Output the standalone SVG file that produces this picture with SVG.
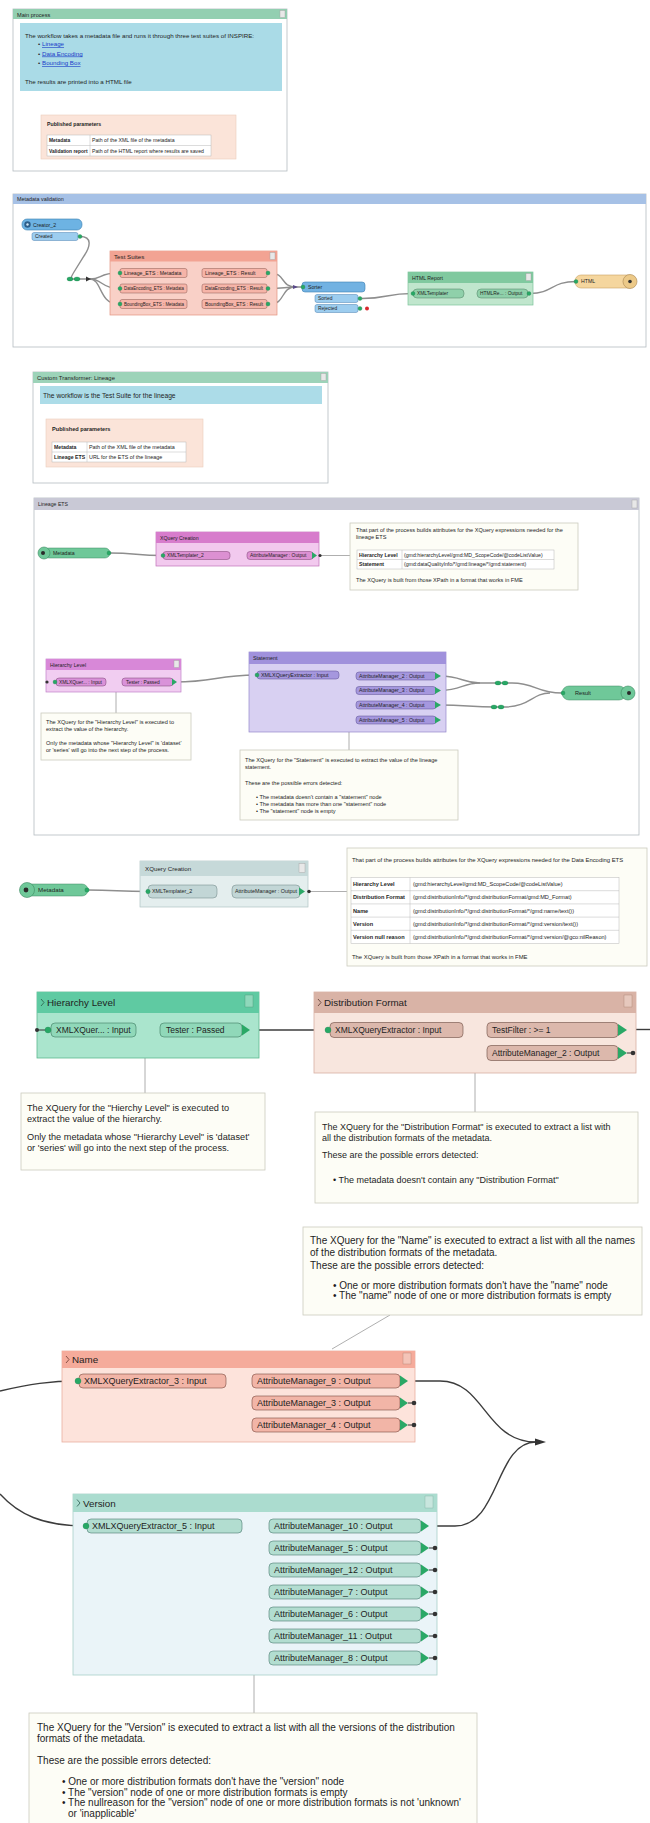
<svg xmlns="http://www.w3.org/2000/svg" width="650" height="1823" viewBox="0 0 650 1823">
<style>
text{font-family:"Liberation Sans",Arial,sans-serif;fill:#1e1e1e}
.b{font-weight:bold}
.f45{font-size:4.6px}.f48{font-size:4.9px}.f5{font-size:5.2px}.f53{font-size:5.4px}.f55{font-size:5.6px}.f58{font-size:5.9px}.f6{font-size:6.2px}.f67{font-size:6.7px}
.f85{font-size:8.5px}.f9{font-size:9px}.f92{font-size:9.2px}.f10{font-size:10px}.fh{font-size:9.8px}
.frame{fill:#fff;stroke:#b4bcc0;stroke-width:0.8}
.cm{fill:#fdfdf6;stroke:#cbcbbf;stroke-width:0.8}
.cl{stroke:#9a9a9a;stroke-width:0.8;fill:none}
.w{fill:none;stroke:#8e8e8e;stroke-width:1.4}
.wd{fill:none;stroke:#3c3c3c;stroke-width:1.4}
.gd{fill:#27a865;stroke:#1c7a48;stroke-width:0.3}
.gt{fill:#2aa866}
.dk{fill:#333}
.lnk{fill:#1a3cc8;text-decoration:underline}
.peach{fill:#fbe4d9;stroke:#ecccbc;stroke-width:0.6}
.tbl{fill:#fff;stroke:#b8b8b8;stroke-width:0.5}
.ln{stroke:#b8b8b8;stroke-width:0.5}
.sq{fill:#e8e8e8;stroke:#a0a0a0;stroke-width:0.4}
</style>

<g id="main-process">
  <rect class="frame" x="13" y="9" width="274" height="162"/>
  <rect x="13" y="9" width="274" height="10" fill="#93cfb1"/>
  <text class="f55" x="17" y="16.5">Main process</text>
  <rect class="sq" x="280" y="10.5" width="5" height="7"/>
  <rect x="20" y="23" width="262" height="68" fill="#aadbe7"/>
  <text class="f6" x="25" y="37.5">The workflow takes a metadata file and runs it through three test suites of INSPIRE:</text>
  <text class="f6" x="38" y="46">•</text><text class="f6 lnk" x="42" y="46">Lineage</text>
  <text class="f6" x="38" y="55.5">•</text><text class="f6 lnk" x="42" y="55.5">Data Encoding</text>
  <text class="f6" x="38" y="65">•</text><text class="f6 lnk" x="42" y="65">Bounding Box</text>
  <text class="f6" x="25" y="84">The results are printed into a HTML file</text>
  <rect class="peach" x="41" y="115" width="195" height="44"/>
  <text class="f5 b" x="47" y="125.5">Published parameters</text>
  <rect class="tbl" x="47" y="135" width="164" height="21"/>
  <line class="ln" x1="47" y1="145.5" x2="211" y2="145.5"/>
  <line class="ln" x1="90" y1="135" x2="90" y2="156"/>
  <text class="f48 b" x="49" y="142.2">Metadata</text>
  <text class="f5" x="92" y="142.2">Path of the XML file of the metadata</text>
  <text class="f48 b" x="49" y="152.7">Validation report</text>
  <text class="f5" x="92" y="152.7">Path of the HTML report where results are saved</text>
</g>

<g id="metadata-validation">
  <rect class="frame" x="13" y="194" width="633" height="153" stroke="#9cb2d2"/>
  <rect x="13" y="194" width="633" height="10" fill="#a6c1e6"/>
  <text class="f53" x="17" y="201.3">Metadata validation</text>
</g>

<g id="custom-transformer-lineage">
  <rect class="frame" x="33" y="372" width="295" height="111" stroke="#a8c8bc"/>
  <rect x="33" y="372" width="295" height="11" fill="#9dd3b9"/>
  <text class="f58" x="37" y="380">Custom Transformer: Lineage</text>
  <rect class="sq" x="321" y="373.5" width="5" height="7"/>
  <rect x="40" y="386" width="282" height="18" fill="#acdce8"/>
  <text class="f67" x="43" y="397.5">The workflow is the Test Suite for the lineage</text>
  <rect class="peach" x="46" y="419" width="157" height="48"/>
  <text class="f55 b" x="52" y="431">Published parameters</text>
  <rect class="tbl" x="52" y="442" width="134" height="20"/>
  <line class="ln" x1="52" y1="452" x2="186" y2="452"/>
  <line class="ln" x1="87" y1="442" x2="87" y2="462"/>
  <text class="f5 b" x="54" y="449">Metadata</text>
  <text class="f53" x="89" y="449">Path of the XML file of the metadata</text>
  <text class="f5 b" x="54" y="459">Lineage ETS</text>
  <text class="f53" x="89" y="459">URL for the ETS of the lineage</text>
</g>

<g id="lineage-ets">
  <rect class="frame" x="34" y="498" width="605" height="337" stroke="#b8b8c8"/>
  <rect x="34" y="498" width="605" height="12" fill="#c9c9d6"/>
  <text class="f5" x="38" y="506">Lineage ETS</text>
  <rect class="sq" x="632" y="500" width="5" height="8"/>
</g>

<g id="connectors">
  <path class="w" d="M80,236.5 C93,236.5 90,247 84,256 L74,272 C71,277 70,279 74,279 L90,279"/>
  <path class="w" d="M90,279 C102,279 99,273 118,273"/>
  <path class="w" d="M90,279 C102,279 102,288.5 118,288.5"/>
  <path class="w" d="M90,279 C102,279 99,304 118,304"/>
  <path class="w" d="M270,273 C286,273 280,287 296,287"/>
  <path class="w" d="M270,288.5 C284,288.5 284,287 296,287"/>
  <path class="w" d="M270,304 C286,304 280,287 296,287 L303,287"/>
  <path class="w" d="M362,298.5 C388,298.5 386,293.5 412,293.5"/>
  <path class="w" d="M530,293.5 C553,293.5 551,281.5 576,281.5"/>
  <path class="w" d="M110,553 C136,553 136,555.5 163,555.5"/>
  <path class="cl" d="M320,555.5 L350,555.5"/>
  <path class="w" d="M175,682 C215,682 217,675 257,675"/>
  <path class="w" d="M440,676 C462,676 462,683 480,683"/>
  <path class="w" d="M440,690.5 C462,690.5 462,683 480,683 L512,683 C536,683 536,693 562,693"/>
  <path class="w" d="M440,705 C466,705 470,707 496,707 L504,707 C530,707 532,693 550,693"/>
  <path class="cl" d="M116,692 L116,713"/>
  <path class="cl" d="M349,732 L349,750"/>
  <path class="w" d="M88,890 C116,890 118,891.5 148,891.5"/>
  <path class="cl" d="M309,891.5 L347,891.5"/>
  <path class="wd" d="M250,1030 L327,1030"/>
  <path class="wd" d="M627,1029.5 L650,1029.5"/>
  <path class="cl" d="M145,1058 L145,1093"/>
  <path class="cl" d="M475,1073 L475,1112"/>
  <path class="wd" stroke="#555" d="M0,1391 C30,1384 50,1381 78,1381"/>
  <path class="wd" d="M408,1381 L440,1381 C485,1381 485,1442 536,1442"/>
  <path class="wd" d="M429,1526 L455,1526 C500,1526 495,1442 536,1442"/>
  <path class="wd" d="M0,1494 C18,1514 42,1526 86,1526"/>
  <polygon class="dk" points="535,1438.5 546,1442 535,1445.5"/>
  <path class="cl" d="M390,1315 L332,1349"/>
  <path class="cl" d="M254,1675 L254,1713"/>
  <ellipse class="gd" cx="70" cy="279" rx="3" ry="2"/>
  <ellipse class="gd" cx="77" cy="279" rx="3" ry="2"/>
  <polygon class="dk" points="86,276.5 91,279 86,281.5"/>
  <polygon fill="#5a4a8a" points="293,285 298,287 293,289"/>
  <ellipse class="gd" cx="498" cy="683" rx="3" ry="2"/>
  <ellipse class="gd" cx="505" cy="683" rx="3" ry="2"/>
  <ellipse class="gd" cx="494" cy="707" rx="3" ry="2"/>
  <ellipse class="gd" cx="501" cy="707" rx="3" ry="2"/>
</g>

<g id="creator-2">
  <rect x="22" y="219" width="60" height="11" rx="5" fill="#6db3e3" stroke="#3a7fb0" stroke-width="0.6"/>
  <circle cx="27.5" cy="224.5" r="3.2" fill="#2d5f8a"/>
  <circle cx="27.5" cy="224.5" r="1.2" fill="#cfe6f6"/>
  <text class="f5" x="33" y="226.5">Creator_2</text>
  <rect x="32" y="232.5" width="46" height="8" rx="2" fill="#9dcdef" stroke="#4a80b0" stroke-width="0.5"/>
  <text class="f48" x="35" y="238.3">Created</text>
  <circle class="gd" cx="80" cy="236.5" r="2"/>
</g>

<g id="test-suites">
  <rect x="110" y="251" width="167" height="64" fill="#f9d0c7" stroke="#e3937f" stroke-width="0.7"/>
  <rect x="110" y="251" width="167" height="10.5" fill="#f2a393"/>
  <text class="f6" x="114" y="258.8">Test Suites</text>
  <rect class="sq" x="270" y="252.5" width="5" height="7"/>
  <rect x="120" y="268.5" width="67" height="9" rx="2" fill="#f6b4a8" stroke="#8a5a50" stroke-width="0.5"/>
  <rect x="120" y="284" width="67" height="9" rx="2" fill="#f6b4a8" stroke="#8a5a50" stroke-width="0.5"/>
  <rect x="120" y="299.5" width="67" height="9" rx="2" fill="#f6b4a8" stroke="#8a5a50" stroke-width="0.5"/>
  <rect x="202" y="268.5" width="65" height="9" rx="2" fill="#f6b4a8" stroke="#8a5a50" stroke-width="0.5"/>
  <rect x="202" y="284" width="65" height="9" rx="2" fill="#f6b4a8" stroke="#8a5a50" stroke-width="0.5"/>
  <rect x="202" y="299.5" width="65" height="9" rx="2" fill="#f6b4a8" stroke="#8a5a50" stroke-width="0.5"/>
  <circle class="gd" cx="120" cy="273" r="2"/><circle class="gd" cx="120" cy="288.5" r="2"/><circle class="gd" cx="120" cy="304" r="2"/>
  <circle class="gd" cx="268" cy="273" r="2"/><circle class="gd" cx="268" cy="288.5" r="2"/><circle class="gd" cx="268" cy="304" r="2"/>
  <text class="f5" x="124" y="274.8">Lineage_ETS : Metadata</text>
  <text class="f5" x="124" y="290.3" textLength="60" lengthAdjust="spacingAndGlyphs">DataEncoding_ETS : Metadata</text>
  <text class="f5" x="124" y="305.8" textLength="60" lengthAdjust="spacingAndGlyphs">BoundingBox_ETS : Metadata</text>
  <text class="f5" x="205" y="274.8">Lineage_ETS : Result</text>
  <text class="f5" x="205" y="290.3" textLength="58" lengthAdjust="spacingAndGlyphs">DataEncoding_ETS : Result</text>
  <text class="f5" x="205" y="305.8" textLength="58" lengthAdjust="spacingAndGlyphs">BoundingBox_ETS : Result</text>
</g>

<g id="sorter">
  <rect x="302" y="282" width="63" height="10" rx="3" fill="#72b2e2" stroke="#3d80b4" stroke-width="0.6"/>
  <circle class="gd" cx="303" cy="287" r="2"/>
  <text class="f5" x="308" y="288.8">Sorter</text>
  <rect x="315" y="294.5" width="43" height="8" rx="2" fill="#9dcdef" stroke="#4a80b0" stroke-width="0.5"/>
  <rect x="315" y="304.5" width="43" height="8" rx="2" fill="#9dcdef" stroke="#4a80b0" stroke-width="0.5"/>
  <text class="f48" x="318" y="300.3">Sorted</text>
  <text class="f48" x="318" y="310.3">Rejected</text>
  <circle class="gd" cx="360" cy="298.5" r="2"/>
  <circle class="gd" cx="360" cy="308.5" r="2"/>
  <circle cx="367" cy="308.5" r="2" fill="#d8282c"/>
</g>

<g id="html-report">
  <rect x="408" y="272" width="125" height="33" fill="#c0e6cd" stroke="#7cc49a" stroke-width="0.7"/>
  <rect x="408" y="272" width="125" height="11" fill="#80c99f"/>
  <text class="f5" x="412" y="279.8">HTML Report</text>
  <rect class="sq" x="526" y="273.5" width="5" height="7"/>
  <rect x="413" y="289" width="51" height="9" rx="4" fill="#8fd0aa" stroke="#4e7e60" stroke-width="0.5"/>
  <rect x="477" y="289" width="51" height="9" rx="4" fill="#8fd0aa" stroke="#4e7e60" stroke-width="0.5"/>
  <circle class="gd" cx="413" cy="293.5" r="2"/>
  <circle class="gd" cx="529" cy="293.5" r="2"/>
  <text class="f48" x="417" y="295.2">XMLTemplater</text>
  <text class="f48" x="480" y="295.2">HTMLRe... : Output</text>
</g>

<g id="html-writer">
  <rect x="575" y="275" width="60" height="13" rx="6" fill="#f5d69e" stroke="#c9a263" stroke-width="0.6"/>
  <circle cx="630" cy="281.5" r="7" fill="#ecc988" stroke="#a88550" stroke-width="0.6"/>
  <circle cx="630" cy="281.5" r="1.8" fill="#333"/>
  <circle class="gd" cx="576" cy="281.5" r="2"/>
  <text class="f5" x="581" y="283.3">HTML</text>
</g>

<g id="lineage-metadata">
  <rect x="44" y="548" width="66" height="10" rx="5" fill="#6fc899" stroke="#3d8a62" stroke-width="0.5"/>
  <circle cx="44" cy="553" r="6" fill="#6fc899" stroke="#3d8a62" stroke-width="0.6"/>
  <circle cx="43" cy="553" r="2" fill="#2a2a2a"/>
  <text class="f5" x="53" y="554.8">Metadata</text>
  <circle class="gd" cx="109" cy="553" r="2"/>
</g>

<g id="lineage-xquery-creation">
  <rect x="156" y="532" width="163" height="34" fill="#f2c9ee" stroke="#c070b8" stroke-width="0.7"/>
  <rect x="156" y="532" width="163" height="11" fill="#d77ccc"/>
  <text class="f5" x="160" y="539.6">XQuery Creation</text>
  <rect x="163" y="551.5" width="67" height="8" rx="3" fill="#dc90d2" stroke="#7a4070" stroke-width="0.5"/>
  <rect x="247" y="551.5" width="66" height="8" rx="3" fill="#dc90d2" stroke="#7a4070" stroke-width="0.5"/>
  <circle class="gd" cx="163" cy="555.5" r="2"/>
  <polygon class="gt" points="312,552 317,555.5 312,559"/>
  <circle class="dk" cx="320" cy="555.5" r="1.6"/>
  <text class="f48" x="167" y="557.2">XMLTemplater_2</text>
  <text class="f48" x="250" y="557.2">AttributeManager : Output</text>
</g>

<g id="lineage-comment">
  <rect class="cm" x="350" y="523" width="228" height="67"/>
  <text class="f55" x="356" y="532">That part of the process builds attributes for the XQuery expressions needed for the</text>
  <text class="f55" x="356" y="538.5">lineage ETS</text>
  <rect class="tbl" x="357" y="550" width="197" height="19"/>
  <line class="ln" x1="357" y1="559.5" x2="554" y2="559.5"/>
  <line class="ln" x1="402" y1="550" x2="402" y2="569"/>
  <text class="f5 b" x="359" y="556.7">Hierarchy Level</text>
  <text class="f5" x="404" y="556.7">(gmd:hierarchyLevel/gmd:MD_ScopeCode/@codeListValue)</text>
  <text class="f5 b" x="359" y="566.2">Statement</text>
  <text class="f5" x="404" y="566.2">(gmd:dataQualityInfo/*/gmd:lineage/*/gmd:statement)</text>
  <text class="f55" x="356" y="582">The XQuery is built from those XPath in a format that works in FME</text>
</g>

<g id="lineage-hierarchy-level">
  <rect x="46" y="659" width="135" height="33" fill="#f1cdf1" stroke="#c080c8" stroke-width="0.7"/>
  <rect x="46" y="659" width="135" height="11" fill="#d888d8"/>
  <text class="f5" x="50" y="666.6">Hierarchy Level</text>
  <rect class="sq" x="174" y="660.5" width="5" height="7"/>
  <rect x="56" y="678" width="50" height="8" rx="3" fill="#d992d9" stroke="#7a4070" stroke-width="0.5"/>
  <rect x="122" y="678" width="51" height="8" rx="3" fill="#d992d9" stroke="#7a4070" stroke-width="0.5"/>
  <circle class="dk" cx="47" cy="682" r="1.6"/>
  <circle class="gd" cx="55" cy="682" r="2"/>
  <polygon class="gt" points="172,678.5 177,682 172,685.5"/>
  <text class="f48" x="59" y="683.7">XMLXQuer... : Input</text>
  <text class="f48" x="126" y="683.7">Tester : Passed</text>
</g>

<g id="lineage-statement">
  <rect x="249" y="652" width="197" height="80" fill="#d8d0f2" stroke="#9488cc" stroke-width="0.7"/>
  <rect x="249" y="652" width="197" height="12" fill="#a091dc"/>
  <text class="f53" x="253" y="660.2">Statement</text>
  <rect x="257" y="671" width="82" height="8" rx="3" fill="#a597de" stroke="#5a4e90" stroke-width="0.5"/>
  <circle class="gd" cx="257" cy="675" r="2"/>
  <text class="f53" x="261" y="676.9">XMLXQueryExtractor : Input</text>
  <rect x="356" y="672" width="80" height="8" rx="3" fill="#a597de" stroke="#5a4e90" stroke-width="0.5"/>
  <rect x="356" y="686.5" width="80" height="8" rx="3" fill="#a597de" stroke="#5a4e90" stroke-width="0.5"/>
  <rect x="356" y="701" width="80" height="8" rx="3" fill="#a597de" stroke="#5a4e90" stroke-width="0.5"/>
  <rect x="356" y="716" width="80" height="8" rx="3" fill="#a597de" stroke="#5a4e90" stroke-width="0.5"/>
  <text class="f5" x="359" y="677.8">AttributeManager_2 : Output</text>
  <text class="f5" x="359" y="692.3">AttributeManager_3 : Output</text>
  <text class="f5" x="359" y="706.8">AttributeManager_4 : Output</text>
  <text class="f5" x="359" y="721.8">AttributeManager_5 : Output</text>
  <polygon class="gt" points="435,672.5 441,676 435,679.5"/>
  <polygon class="gt" points="435,687 441,690.5 435,694"/>
  <polygon class="gt" points="435,701.5 441,705 435,708.5"/>
  <polygon class="gt" points="435,716.5 441,720 435,723.5"/>
</g>

<g id="lineage-result">
  <rect x="562" y="686" width="64" height="14" rx="7" fill="#6fc899" stroke="#3d8a62" stroke-width="0.5"/>
  <circle cx="628" cy="693" r="7" fill="#6fc899" stroke="#3d8a62" stroke-width="0.6"/>
  <circle cx="629" cy="693" r="2" fill="#2a2a2a"/>
  <circle class="gd" cx="563" cy="693" r="2"/>
  <text class="f55" x="575" y="695">Result</text>
</g>

<g id="lineage-hierarchy-comment">
  <rect class="cm" x="41" y="713" width="150" height="47"/>
  <text class="f55" x="46" y="724">The XQuery for the "Hierarchy Level" is executed to</text>
  <text class="f55" x="46" y="731">extract the value of the hierarchy.</text>
  <text class="f55" x="46" y="745">Only the metadata whose "Hierarchy Level" is 'dataset'</text>
  <text class="f55" x="46" y="752">or 'series' will go into the next step of the process.</text>
</g>

<g id="lineage-statement-comment">
  <rect class="cm" x="240" y="750" width="218" height="70"/>
  <text class="f55" x="245" y="762">The XQuery for the "Statement" is executed to extract the value of the lineage</text>
  <text class="f55" x="245" y="769">statement.</text>
  <text class="f55" x="245" y="785">These are the possible errors detected:</text>
  <text class="f55" x="256" y="799">• The metadata doesn't contain a "statement" node</text>
  <text class="f55" x="256" y="806">• The metadata has more than one "statement" node</text>
  <text class="f55" x="256" y="813">• The "statement" node is empty</text>
</g>

<g id="encoding-metadata">
  <rect x="26" y="884" width="62" height="12" rx="6" fill="#6fc899" stroke="#3d8a62" stroke-width="0.5"/>
  <circle cx="27" cy="890" r="7.5" fill="#6fc899" stroke="#3d8a62" stroke-width="0.6"/>
  <circle cx="26" cy="890" r="2.4" fill="#2a2a2a"/>
  <circle class="gd" cx="87" cy="890" r="2.2"/>
  <text class="f6" x="38" y="892.2">Metadata</text>
</g>

<g id="encoding-xquery-creation">
  <rect x="140" y="861" width="168" height="46" fill="#e4eeee" stroke="#b0c4c4" stroke-width="0.7"/>
  <rect x="140" y="861" width="168" height="15" fill="#c6d9d9"/>
  <text class="f6" x="145" y="871">XQuery Creation</text>
  <rect class="sq" x="299" y="863.5" width="6" height="9"/>
  <rect x="148" y="885" width="69" height="13" rx="4" fill="#c2d6d6" stroke="#6a8080" stroke-width="0.5"/>
  <rect x="232" y="885" width="68" height="13" rx="4" fill="#c2d6d6" stroke="#6a8080" stroke-width="0.5"/>
  <circle class="gd" cx="148" cy="891.5" r="2.2"/>
  <polygon class="gt" points="299,887.5 305,891.5 299,895.5"/>
  <circle class="dk" cx="309" cy="891.5" r="1.8"/>
  <text class="f53" x="152" y="893.4">XMLTemplater_2</text>
  <text class="f53" x="235" y="893.4">AttributeManager : Output</text>
</g>

<g id="encoding-comment">
  <rect class="cm" x="347" y="848" width="300" height="118"/>
  <text class="f58" x="352" y="862">That part of the process builds attributes for the XQuery expressions needed for the Data Encoding ETS</text>
  <rect class="tbl" x="351" y="877.5" width="268" height="66"/>
  <line class="ln" x1="351" y1="890.7" x2="619" y2="890.7"/>
  <line class="ln" x1="351" y1="903.9" x2="619" y2="903.9"/>
  <line class="ln" x1="351" y1="917.1" x2="619" y2="917.1"/>
  <line class="ln" x1="351" y1="930.3" x2="619" y2="930.3"/>
  <line class="ln" x1="410" y1="877.5" x2="410" y2="943.5"/>
  <text class="f55 b" x="353" y="886.2">Hierarchy Level</text>
  <text class="f55" x="413" y="886.2">(gmd:hierarchyLevel/gmd:MD_ScopeCode/@codeListValue)</text>
  <text class="f55 b" x="353" y="899.4">Distribution Format</text>
  <text class="f55" x="413" y="899.4">(gmd:distributionInfo/*/gmd:distributionFormat/gmd:MD_Format)</text>
  <text class="f55 b" x="353" y="912.6">Name</text>
  <text class="f55" x="413" y="912.6">(gmd:distributionInfo/*/gmd:distributionFormat/*/gmd:name/text())</text>
  <text class="f55 b" x="353" y="925.8">Version</text>
  <text class="f55" x="413" y="925.8">(gmd:distributionInfo/*/gmd:distributionFormat/*/gmd:version/text())</text>
  <text class="f55 b" x="353" y="939">Version null reason</text>
  <text class="f55" x="413" y="939">(gmd:distributionInfo/*/gmd:distributionFormat/*/gmd:version/@gco:nilReason)</text>
  <text class="f58" x="352" y="959">The XQuery is built from those XPath in a format that works in FME</text>
</g>

<g id="hierarchy-level">
  <rect x="37" y="992" width="222" height="66" fill="#aae5cd" stroke="#5cb890" stroke-width="0.8"/>
  <rect x="37" y="992" width="222" height="21" fill="#5fcaa2"/>
  <polyline points="41,999 44,1002.5 41,1006" fill="none" stroke="#2a5a48" stroke-width="0.8"/>
  <text class="fh" x="47" y="1006">Hierarchy Level</text>
  <rect x="245" y="995" width="8" height="12" fill="#8fd8bb" stroke="#4a9a78" stroke-width="0.4"/>
  <rect x="51" y="1023" width="85" height="14" rx="4" fill="#90d8b9" stroke="#3d7a60" stroke-width="0.6"/>
  <rect x="160" y="1023" width="82" height="14" rx="4" fill="#90d8b9" stroke="#3d7a60" stroke-width="0.6"/>
  <circle class="dk" cx="37" cy="1030" r="2"/>
  <line x1="37" y1="1030" x2="46" y2="1030" stroke="#333" stroke-width="1"/>
  <circle class="gd" cx="48" cy="1030" r="3"/>
  <polygon class="gt" points="242,1024.5 250,1030 242,1035.5"/>
  <text class="f85" x="56" y="1033">XMLXQuer... : Input</text>
  <text class="f85" x="166" y="1033">Tester : Passed</text>
</g>

<g id="distribution-format">
  <rect x="314" y="992" width="322" height="81" fill="#f8e6de" stroke="#d8b0a4" stroke-width="0.8"/>
  <rect x="314" y="992" width="322" height="21" fill="#d9b3a6"/>
  <polyline points="318,999 321,1002.5 318,1006" fill="none" stroke="#5a3a30" stroke-width="0.8"/>
  <text class="fh" x="324" y="1006">Distribution Format</text>
  <rect x="624" y="995" width="8" height="12" fill="#e6c8bd" stroke="#a88070" stroke-width="0.4"/>
  <rect x="330" y="1022.5" width="133" height="15" rx="4" fill="#dcb8ac" stroke="#6a4a40" stroke-width="0.6"/>
  <rect x="487" y="1022.5" width="131" height="15" rx="4" fill="#dcb8ac" stroke="#6a4a40" stroke-width="0.6"/>
  <rect x="487" y="1045.5" width="131" height="15" rx="4" fill="#dcb8ac" stroke="#6a4a40" stroke-width="0.6"/>
  <circle class="gd" cx="328" cy="1030" r="3"/>
  <polygon class="gt" points="618,1024 627,1030 618,1036"/>
  <polygon class="gt" points="618,1047 627,1053 618,1059"/>
  <line x1="627" y1="1053" x2="633" y2="1053" stroke="#333" stroke-width="1"/>
  <circle class="dk" cx="633" cy="1053" r="2.3"/>
  <text class="f85" x="335" y="1033">XMLXQueryExtractor : Input</text>
  <text class="f85" x="492" y="1033">TestFilter : &gt;= 1</text>
  <text class="f85" x="492" y="1056">AttributeManager_2 : Output</text>
</g>

<g id="hierarchy-comment">
  <rect class="cm" x="21" y="1093" width="244" height="77"/>
  <text class="f92" x="27" y="1111">The XQuery for the "Hierchy Level" is executed to</text>
  <text class="f92" x="27" y="1122">extract the value of the hierarchy.</text>
  <text class="f92" x="27" y="1140">Only the metadata whose "Hierarchy Level" is 'dataset'</text>
  <text class="f92" x="27" y="1150.5">or 'series' will go into the next step of the process.</text>
</g>

<g id="distribution-comment">
  <rect class="cm" x="315" y="1112" width="323" height="91"/>
  <text class="f9" x="322" y="1130">The XQuery for the "Distribution Format" is executed to extract a list with</text>
  <text class="f9" x="322" y="1141">all the distribution formats of the metadata.</text>
  <text class="f9" x="322" y="1158">These are the possible errors detected:</text>
  <text class="f9" x="333" y="1183">• The metadata doesn't contain any "Distribution Format"</text>
</g>

<g id="name-comment">
  <rect class="cm" x="303" y="1227" width="339" height="88"/>
  <text class="f10" x="310" y="1243.5">The XQuery for the "Name" is executed to extract a list with all the names</text>
  <text class="f10" x="310" y="1255.5">of the distribution formats of the metadata.</text>
  <text class="f10" x="310" y="1269">These are the possible errors detected:</text>
  <text class="f10" x="333" y="1288.5">• One or more distribution formats don't have the "name" node</text>
  <text class="f10" x="333" y="1299">• The "name" node of one or more distribution formats is empty</text>
</g>

<g id="name">
  <rect x="62" y="1351" width="353" height="91" fill="#fde3db" stroke="#e8b0a0" stroke-width="0.8"/>
  <rect x="62" y="1351" width="353" height="17" fill="#f5ab9b"/>
  <polyline points="66,1356 69,1359.5 66,1363" fill="none" stroke="#6a3a30" stroke-width="0.8"/>
  <text class="fh" x="72" y="1363">Name</text>
  <rect x="403" y="1353" width="8" height="11" fill="#f4c4b8" stroke="#b08070" stroke-width="0.4"/>
  <rect x="79" y="1374" width="147" height="14" rx="4" fill="#f2b5a7" stroke="#7a4a40" stroke-width="0.6"/>
  <rect x="252" y="1374" width="148" height="14" rx="4" fill="#f2b5a7" stroke="#7a4a40" stroke-width="0.6"/>
  <rect x="252" y="1396" width="148" height="14" rx="4" fill="#f2b5a7" stroke="#7a4a40" stroke-width="0.6"/>
  <rect x="252" y="1418" width="148" height="14" rx="4" fill="#f2b5a7" stroke="#7a4a40" stroke-width="0.6"/>
  <circle class="gd" cx="78" cy="1381" r="3"/>
  <polygon class="gt" points="400,1375.5 408,1381 400,1386.5"/>
  <polygon class="gt" points="400,1397.5 408,1403 400,1408.5"/>
  <polygon class="gt" points="400,1419.5 408,1425 400,1430.5"/>
  <line x1="408" y1="1403" x2="414" y2="1403" stroke="#333" stroke-width="1"/>
  <circle class="dk" cx="414" cy="1403" r="2.3"/>
  <line x1="408" y1="1425" x2="414" y2="1425" stroke="#333" stroke-width="1"/>
  <circle class="dk" cx="414" cy="1425" r="2.3"/>
  <text class="f9" x="84" y="1384.2">XMLXQueryExtractor_3 : Input</text>
  <text class="f9" x="257" y="1384.2">AttributeManager_9 : Output</text>
  <text class="f9" x="257" y="1406.2">AttributeManager_3 : Output</text>
  <text class="f9" x="257" y="1428.2">AttributeManager_4 : Output</text>
</g>

<g id="version">
  <rect x="73" y="1494" width="364" height="181" fill="#eaf4f8" stroke="#a8d0c8" stroke-width="0.8"/>
  <rect x="73" y="1494" width="364" height="18" fill="#abdccf"/>
  <polyline points="77,1499.5 80,1503 77,1506.5" fill="none" stroke="#2a5a50" stroke-width="0.8"/>
  <text class="fh" x="83" y="1506.5">Version</text>
  <rect x="425" y="1496" width="8" height="12" fill="#c8e6de" stroke="#80b0a4" stroke-width="0.4"/>
  <rect x="87" y="1519" width="155" height="14" rx="4" fill="#b2ddd0" stroke="#4a7a70" stroke-width="0.6"/>
  <circle class="gd" cx="86" cy="1526" r="3"/>
  <text class="f9" x="92" y="1529.2">XMLXQueryExtractor_5 : Input</text>
  <rect x="269" y="1519" width="152" height="14" rx="4" fill="#b2ddd0" stroke="#4a7a70" stroke-width="0.6"/>
  <rect x="269" y="1541" width="152" height="14" rx="4" fill="#b2ddd0" stroke="#4a7a70" stroke-width="0.6"/>
  <rect x="269" y="1563" width="152" height="14" rx="4" fill="#b2ddd0" stroke="#4a7a70" stroke-width="0.6"/>
  <rect x="269" y="1585" width="152" height="14" rx="4" fill="#b2ddd0" stroke="#4a7a70" stroke-width="0.6"/>
  <rect x="269" y="1607" width="152" height="14" rx="4" fill="#b2ddd0" stroke="#4a7a70" stroke-width="0.6"/>
  <rect x="269" y="1629" width="152" height="14" rx="4" fill="#b2ddd0" stroke="#4a7a70" stroke-width="0.6"/>
  <rect x="269" y="1651" width="152" height="14" rx="4" fill="#b2ddd0" stroke="#4a7a70" stroke-width="0.6"/>
  <text class="f9" x="274" y="1529.2">AttributeManager_10 : Output</text>
  <text class="f9" x="274" y="1551.2">AttributeManager_5 : Output</text>
  <text class="f9" x="274" y="1573.2">AttributeManager_12 : Output</text>
  <text class="f9" x="274" y="1595.2">AttributeManager_7 : Output</text>
  <text class="f9" x="274" y="1617.2">AttributeManager_6 : Output</text>
  <text class="f9" x="274" y="1639.2">AttributeManager_11 : Output</text>
  <text class="f9" x="274" y="1661.2">AttributeManager_8 : Output</text>
  <polygon class="gt" points="421,1520.5 429,1526 421,1531.5"/>
  <polygon class="gt" points="421,1542.5 429,1548 421,1553.5"/>
  <polygon class="gt" points="421,1564.5 429,1570 421,1575.5"/>
  <polygon class="gt" points="421,1586.5 429,1592 421,1597.5"/>
  <polygon class="gt" points="421,1608.5 429,1614 421,1619.5"/>
  <polygon class="gt" points="421,1630.5 429,1636 421,1641.5"/>
  <polygon class="gt" points="421,1652.5 429,1658 421,1663.5"/>
  <g stroke="#333" stroke-width="1">
    <line x1="429" y1="1548" x2="435" y2="1548"/><line x1="429" y1="1570" x2="435" y2="1570"/>
    <line x1="429" y1="1592" x2="435" y2="1592"/><line x1="429" y1="1614" x2="435" y2="1614"/>
    <line x1="429" y1="1636" x2="435" y2="1636"/><line x1="429" y1="1658" x2="435" y2="1658"/>
  </g>
  <circle class="dk" cx="435" cy="1548" r="2.3"/><circle class="dk" cx="435" cy="1570" r="2.3"/>
  <circle class="dk" cx="435" cy="1592" r="2.3"/><circle class="dk" cx="435" cy="1614" r="2.3"/>
  <circle class="dk" cx="435" cy="1636" r="2.3"/><circle class="dk" cx="435" cy="1658" r="2.3"/>
</g>

<g id="version-comment">
  <rect class="cm" x="29" y="1713" width="448" height="115"/>
  <text class="f10" x="37" y="1730.5">The XQuery for the "Version" is executed to extract a list with all the versions of the distribution</text>
  <text class="f10" x="37" y="1741.5">formats of the metadata.</text>
  <text class="f10" x="37" y="1763.5">These are the possible errors detected:</text>
  <text class="f10" x="62" y="1784.5">• One or more distribution formats don't have the "version" node</text>
  <text class="f10" x="62" y="1795.5">• The "version" node of one or more distribution formats is empty</text>
  <text class="f10" x="62" y="1806">• The nullreason for the "version" node of one or more distribution formats is not 'unknown'</text>
  <text class="f10" x="68" y="1816.5">or 'inapplicable'</text>
</g>
</svg>
